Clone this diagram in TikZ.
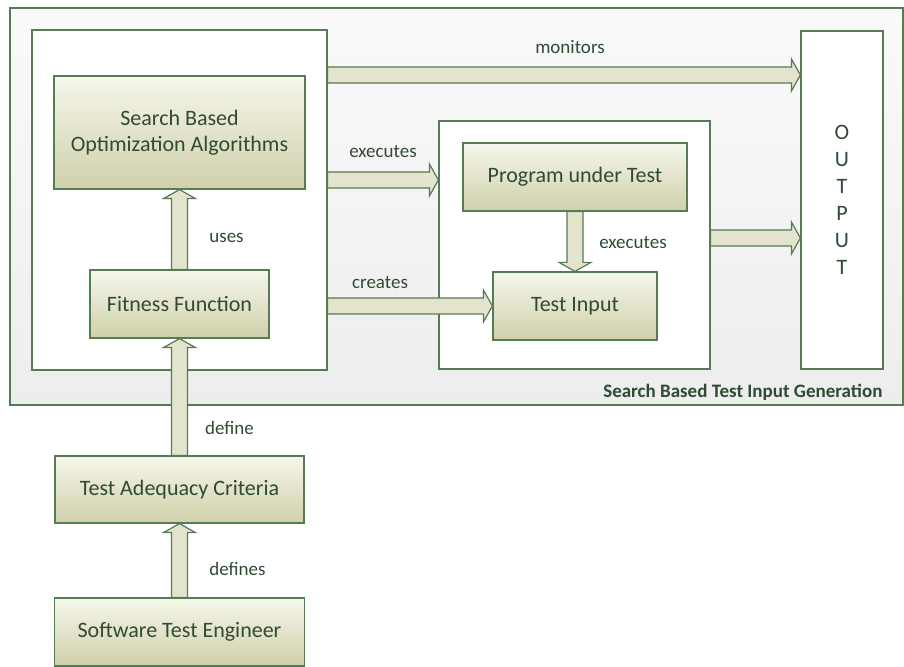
\documentclass[tikz,border=0pt]{standalone}
\usepackage{fontspec}
\setmainfont{Carlito}
\usetikzlibrary{positioning,calc}

\definecolor{boxtop}{HTML}{F6F6EC}
\definecolor{boxbot}{HTML}{D0D0AA}
\definecolor{edge}{HTML}{557D55}
\definecolor{ink}{HTML}{2F4B32}
\definecolor{flowfill}{HTML}{E4E4CE}
\definecolor{systop}{HTML}{FAFAFA}
\definecolor{sysbot}{HTML}{EDEDED}

% block arrow from #1 to #2
\newcommand\flowarrow[2]{%
  \coordinate (fa-h) at ($(#2)!9pt!(#1)$);
  \filldraw[flow] ($(#1)!8pt!90:(#2)$) -- ($(fa-h)!8pt!-90:(#1)$) -- ($(fa-h)!16pt!-90:(#1)$)
    -- (#2) -- ($(fa-h)!16pt!90:(#1)$) -- ($(fa-h)!8pt!90:(#1)$) -- ($(#1)!8pt!-90:(#2)$) -- cycle;}

\begin{document}
\begin{tikzpicture}[x=1pt,y=1pt,line width=1.2pt,
frame/.style={rectangle, draw=edge, fill=white, inner sep=0pt},
proc/.style={rectangle, draw=edge, top color=boxtop, bottom color=boxbot, text=ink,
  font=\fontsize{22}{26}\selectfont, align=center, inner sep=0pt},
flow/.style={draw=edge, fill=flowfill, line join=miter},
lbl/.style={text=ink, font=\fontsize{19}{22}\selectfont, inner sep=0pt}]
\useasboundingbox (0,0) rectangle (904,666);

% frames
\node[frame, top color=systop, bottom color=sysbot, minimum width=893, minimum height=397] (sys) at (456.5,459.5) {};
\node[lbl, anchor=east, font=\fontsize{19}{22}\selectfont\bfseries] (title) at (883,274) {Search Based Test Input Generation};
\node[frame, minimum width=295, minimum height=340] (lbox) at (179.5,466) {};
\node[frame, minimum width=271, minimum height=248] (mbox) at (574.5,421) {};
\node[frame, minimum width=82, minimum height=338, text=ink, font=\fontsize{22}{27}\selectfont, align=center] (out) at (842,466) {O\\U\\T\\P\\U\\T};

% boxes
\node[proc, minimum width=251, minimum height=113] (sboa) at (179.5,533.5) {Search Based\\Optimization Algorithms};
\node[proc, minimum width=179, minimum height=68] (fit) at (179.5,362) {Fitness Function};
\node[proc, minimum width=224, minimum height=68] (put) at (575,489) {Program under Test};
\node[proc, minimum width=164, minimum height=68] (tin) at (575,360) {Test Input};
\node[proc, minimum width=249, minimum height=67] (tac) at (179.5,176.5) {Test Adequacy Criteria};
\node[proc, minimum width=250, minimum height=68] (ste) at (179.5,34) {Software Test Engineer};

\path (lbox.east) ++(0,125) coordinate (mon);
\path (out.west |- mon) coordinate (mon-e);
\path (lbox.east) ++(0,20) coordinate (exe);
\path (mbox.west |- exe) coordinate (exe-e);
\path (lbox.east |- tin) coordinate (cre);
\path (mbox.east) ++(0,7) coordinate (res);
\path (out.west |- res) coordinate (res-e);

% arrows
\flowarrow{fit.north}{sboa.south}
\flowarrow{mon}{mon-e}
\flowarrow{exe}{exe-e}
\flowarrow{cre}{tin.west}
\flowarrow{put.south}{tin.north}
\flowarrow{res}{res-e}
\flowarrow{tac.north}{fit.south}
\flowarrow{ste.north}{tac.south}

% labels
\node[lbl] (l-mon) at ($(mon)!.5!(mon-e)+(6,28)$) {monitors};
\node[lbl] (l-exe) at ($(exe)!.5!(exe-e)+(0,28)$) {executes};
\node[lbl] (l-cre) at ($(cre)!.5!(tin.west)+(-30,23)$) {creates};
\node[lbl] (l-use) at ($(fit.north)!.5!(sboa.south)+(47,-8)$) {uses};
\node[lbl] (l-run) at ($(put.south)!.5!(tin.north)+(58,-1.5)$) {executes};
\node[lbl] (l-def) at ($(tac.north)!.5!(fit.south)+(50,-31)$) {define};
\node[lbl] (l-defs) at ($(ste.north)!.5!(tac.south)+(58,-8.5)$) {defines};

\end{tikzpicture}
\end{document}
